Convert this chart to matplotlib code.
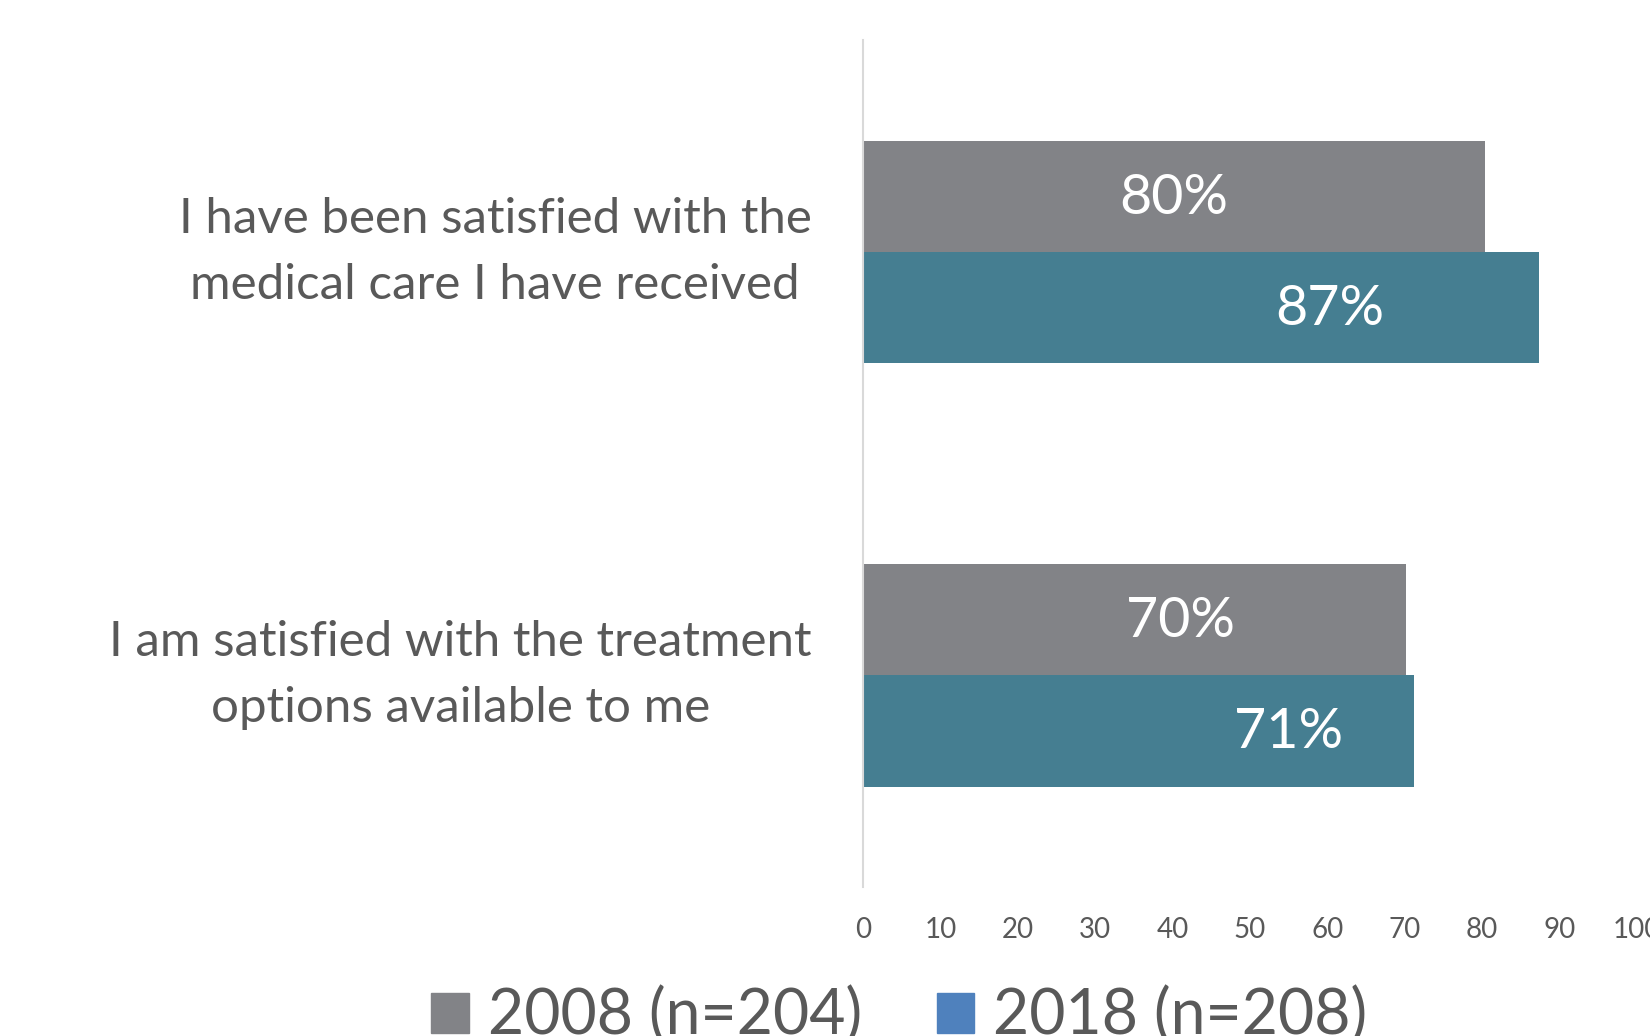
import matplotlib
matplotlib.use("Agg")
import matplotlib.pyplot as plt
from matplotlib.patches import Patch

plt.rcParams["font.family"] = ["Lato", "DejaVu Sans"]

categories = ["I have been satisfied with the\nmedical care I have received",
              "I am satisfied with the treatment\noptions available to me"]
series_names = ["2008 (n=204)", "2018 (n=208)"]
values_2008 = [80.4, 70.2]
values_2018 = [87.3, 71.2]
labels_2008 = ["80%", "70%"]
labels_2018 = ["87%", "71%"]
# where the value labels sit along the bar (they are not centred in the original)
label_x_2008 = [40.1, 41.0]
label_x_2018 = [60.3, 55.0]
xticks = list(range(0, 101, 10))

gray = "#828387"
teal = "#457E91"
legend_blue = "#4F81BD"
text_color = "#595959"

fig = plt.figure(figsize=(16.5, 10.36), dpi=100)
ax = fig.add_axes([0.523, 0.144, 0.469, 0.817])

h = 0.263
y = list(range(len(categories)))
ax.barh([p - h / 2 for p in y], values_2008, height=h, color=gray)
ax.barh([p + h / 2 for p in y], values_2018, height=h, color=teal)

for i in y:
    ax.text(label_x_2008[i], i - h / 2 + 0.005, labels_2008[i], color="white",
            fontsize=40, ha="center", va="center")
    ax.text(label_x_2018[i], i + h / 2 + 0.005, labels_2018[i], color="white",
            fontsize=40, ha="center", va="center")

ax.set_xlim(0, 100)
ax.set_ylim(1.5, -0.5)
ax.set_xticks(xticks)
ax.set_xticklabels([str(t) for t in xticks], fontsize=20, color=text_color)
ax.set_yticks(y)
ax.set_yticklabels(categories, fontsize=35.5, color=text_color, linespacing=1.6)
for lab in ax.get_yticklabels():
    lab.set_multialignment("center")
    lab.set_va("center")
ax.tick_params(axis="x", length=0, pad=22)
ax.tick_params(axis="y", length=0, pad=37)

for s in ["top", "right", "bottom"]:
    ax.spines[s].set_visible(False)
ax.spines["left"].set_color("#D9D9D9")
ax.spines["left"].set_linewidth(1.5)

handles = [Patch(color=gray), Patch(color=legend_blue)]
fig.legend(handles, series_names, loc="center", bbox_to_anchor=(0.545, 0.019),
           ncol=2, frameon=False, fontsize=45, labelcolor=text_color,
           handlelength=0.6, handleheight=0.6, handletextpad=0.3, columnspacing=1.2)

fig.savefig("out.png", dpi=100)
